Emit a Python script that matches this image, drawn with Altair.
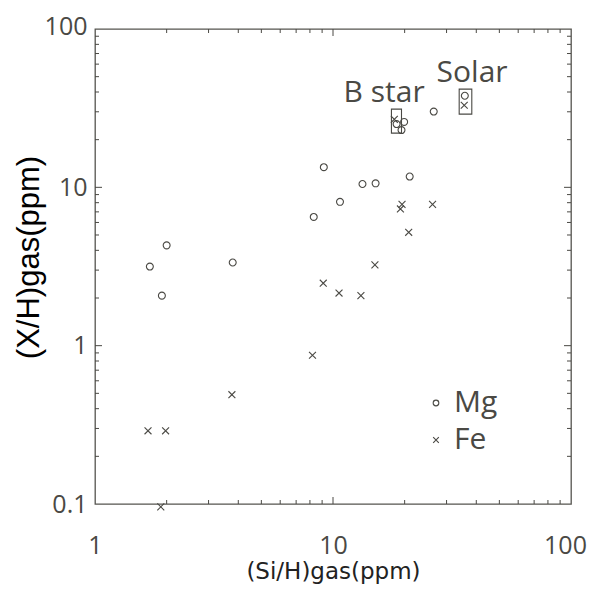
import altair as alt
import pandas as pd

# ---- data ----
mg_si = [9.15, 13.3, 15.1, 21.0, 10.7, 8.3, 2.0, 1.70, 3.79, 1.91, 26.5, 18.5, 19.9, 19.4, 35.8]
mg_x = [13.4, 10.5, 10.6, 11.7, 8.1, 6.5, 4.3, 3.16, 3.35, 2.07, 30.1, 25.1, 25.9, 23.0, 37.9]
fe_si = [19.5, 19.2, 26.2, 20.8, 15.0, 9.1, 10.6, 13.1, 8.2, 3.76, 1.67, 1.98, 1.89, 18.1, 35.6]
fe_x = [7.8, 7.3, 7.8, 5.2, 3.24, 2.48, 2.15, 2.07, 0.87, 0.49, 0.29, 0.29, 0.096, 26.9, 33.0]

box_names = ["B star", "Solar"]
box_si_lo = [17.6, 33.9]
box_si_hi = [19.4, 38.3]
box_x_lo = [22.0, 29.0]
box_x_hi = [31.2, 41.7]
label_si = [16.4, 38.4]
label_x = [34.5, 46.2]

x_minor = [2, 3, 4, 5, 6, 7, 8, 9, 20, 30, 40, 50, 60, 70, 80, 90]
x_major = [10]
y_minor = [0.2, 0.3, 0.4, 0.5, 0.6, 0.7, 0.8, 0.9, 2, 3, 4, 5, 6, 7, 8, 9,
           20, 30, 40, 50, 60, 70, 80, 90]
y_major = [1, 10]

x_ticks = [1, 10, 100]
y_ticks = [0.1, 1, 10, 100]

W, H = 476, 475
INK = "#4a4944"
FONT = "Comic Sans MS, Open Sans"
CROSS = "M-1,-1L1,1M-1,1L1,-1"

pts = pd.DataFrame({
    "x": mg_si + fe_si,
    "y": mg_x + fe_x,
    "el": ["Mg"] * len(mg_si) + ["Fe"] * len(fe_si),
})
boxes = pd.DataFrame({"n": box_names, "x": box_si_lo, "x2": box_si_hi,
                      "y": box_x_lo, "y2": box_x_hi})
labels = pd.DataFrame({"n": box_names, "x": label_si, "y": label_x})

xs = alt.Scale(type="log", domain=[1, 100], nice=False)
ys = alt.Scale(type="log", domain=[0.1, 100], nice=False)

points = alt.Chart(pts).mark_point(filled=False, size=48, strokeWidth=1.1, opacity=1).encode(
    x=alt.X("x:Q", scale=xs,
            axis=alt.Axis(values=x_ticks, format="~g", title="(Si/H)gas(ppm)",
                          labelBaseline="alphabetic", labelPadding=49, labelFlush=False,
                          labelOffset={"condition": {"test": "datum.value >= 100", "value": -6},
                                       "value": 0},
                          titleBaseline="alphabetic", titleY=74,
                          titleFont="DejaVu Sans, Comic Sans MS", titleFontSize=23,
                          titleColor="#222", titleFontWeight="normal")),
    y=alt.Y("y:Q", scale=ys,
            axis=alt.Axis(values=y_ticks, format="~g", title="(X/H)gas(ppm)",
                          labelPadding=8, labelFlush=False,
                          labelOffset={"condition": {"test": "datum.value >= 100", "value": -3},
                                       "value": 0},
                          titleX=-50, titleY=228, titleAngle=270, titleBaseline="bottom",
                          titleFont="Liberation Sans", titleFontSize=31,
                          titleColor="#000", titleFontWeight="normal")),
    shape=alt.Shape("el:N", scale=alt.Scale(domain=["Mg", "Fe"], range=["circle", CROSS]),
                    legend=alt.Legend(title=None, orient="none", legendX=326, legendY=359,
                                      labelFontSize=30, labelFont=FONT, labelColor=INK,
                                      symbolSize=32, symbolStrokeWidth=1.1,
                                      symbolStrokeColor=INK, symbolFillColor="transparent",
                                      rowPadding=7, labelOffset=3, padding=0)),
    color=alt.value(INK),
)

rects = alt.Chart(boxes).mark_rect(filled=False, stroke=INK, strokeWidth=1.1, fill=None).encode(
    x=alt.X("x:Q", scale=xs), x2="x2:Q", y=alt.Y("y:Q", scale=ys), y2="y2:Q")

texts = alt.Chart(labels).mark_text(font=FONT, fontSize=30, color=INK,
                                    align="center", baseline="alphabetic").encode(
    x=alt.X("x:Q", scale=xs), y=alt.Y("y:Q", scale=ys), text="n:N")


def xtick(vals, y0, y1):
    return alt.Chart(pd.DataFrame({"x": vals})).mark_rule(color=INK, strokeWidth=1).encode(
        x=alt.X("x:Q", scale=xs), y=alt.value(y0), y2=alt.value(y1))


def ytick(vals, x0, x1):
    return alt.Chart(pd.DataFrame({"y": vals})).mark_rule(color=INK, strokeWidth=1).encode(
        y=alt.Y("y:Q", scale=ys), x=alt.value(x0), x2=alt.value(x1))


ticks = [
    xtick(x_minor, H, H - 4), xtick(x_major, H, H - 7),
    xtick(x_minor, 0, 4), xtick(x_major, 0, 7),
    ytick(y_minor, 0, 4), ytick(y_major, 0, 7),
    ytick(y_minor, W, W - 4), ytick(y_major, W, W - 7),
]

chart = alt.layer(*ticks, rects, points, texts).properties(
    width=W, height=H,
    autosize=alt.AutoSizeParams(type="none"),
    padding={"left": 87, "top": 21, "right": 17, "bottom": 80},
    background="white",
).configure_view(
    stroke="#55544f", strokeWidth=1.3
).configure_axis(
    domain=False, ticks=False, tickSize=0, grid=False,
    labelFont=FONT, labelFontSize=25, labelColor=INK,
)

chart.save("out.html", embed_options={"renderer": "svg", "actions": False})
